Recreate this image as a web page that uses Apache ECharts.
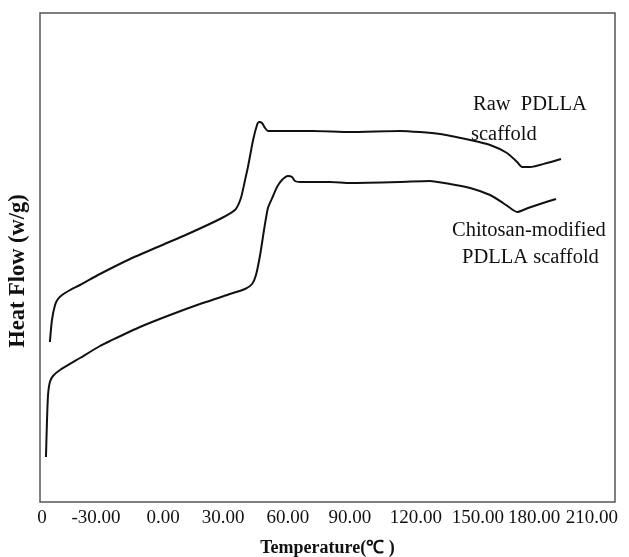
<!DOCTYPE html>
<html>
<head>
<meta charset="utf-8">
<script src="https://cdn.jsdelivr.net/npm/echarts@6/dist/echarts.min.js"></script>
<style>
  html, body { margin: 0; padding: 0; background: #fff; }
  #main { width: 629px; height: 557px; }
</style>
</head>
<body>
<div id="main"></div>
<script>
// tick labels along the temperature axis, as printed, and where they sit on the axis
var tickLabels = ['0', '-30.00', '0.00', '30.00', '60.00', '90.00', '120.00', '150.00', '180.00', '210.00'];
var tickValues = [-56.0, -29.8, 2.7, 31.8, 63.3, 93.4, 125.4, 155.5, 182.7, 210.8];

// Raw PDLLA scaffold: [temperature, heat flow (arbitrary)]
var rawTemp = [-52.2, -51.2, -49.7, -48.3, -46.3, -42.4, -37.6, -27.9, -13.3, 1.2, 15.8, 30.3, 37.6, 40.5, 42.5, 43.9, 46.4, 48.3, 49.3, 50.7, 52.2, 53.6, 59.5, 75.5, 93.4, 117.7, 137.1, 151.7, 161.4, 169.6, 174.5, 176.9, 180.8, 189.0, 195.8];
var rawFlow = [160, 182, 197, 203, 207, 212, 217, 228, 243, 256, 269, 283, 292, 304, 322, 335, 362, 377, 380, 379, 374, 371, 371, 371, 370, 371, 368, 362, 357, 349, 340, 335, 335, 339, 343];

// Chitosan-modified PDLLA scaffold
var chiTemp = [-54.1, -53.6, -53.1, -52.2, -50.7, -47.3, -37.6, -27.9, -23.0, -8.5, 6.1, 20.6, 35.2, 42.5, 45.9, 47.8, 49.8, 51.7, 53.6, 56.1, 58.0, 60.4, 63.3, 65.3, 66.7, 69.2, 83.7, 93.4, 117.7, 132.2, 141.9, 151.7, 161.4, 167.7, 172.5, 174.5, 179.8, 187.1, 193.4];
var chiFlow = [45, 82, 107, 120, 126, 132, 144, 156, 161, 175, 187, 198, 208, 213, 218, 227, 247, 272, 294, 306, 315, 322, 326, 325, 321, 320, 320, 319, 320, 321, 318, 314, 307, 299, 292, 290, 294, 299, 303];

function pairs(xs, ys) {
  var out = [];
  for (var i = 0; i < xs.length; i++) out.push([xs[i], ys[i]]);
  return out;
}

var chart = echarts.init(document.getElementById('main'));
var serif = 'Liberation Serif';
var noteFont = '20.5px "Liberation Serif"';

chart.setOption({
  animation: false,
  backgroundColor: '#fff',
  grid: {
    left: 40, right: 14, top: 13, bottom: 55,
    outerBoundsMode: 'none',
    containLabel: false,
    show: true, borderColor: '#555', borderWidth: 1.5
  },
  xAxis: {
    type: 'value',
    min: -57, max: 222,
    name: 'Temperature(\u2103 )',
    nameLocation: 'middle',
    nameGap: 37,
    nameTextStyle: { fontFamily: serif, fontSize: 18, fontWeight: 'bold', color: '#111' },
    axisLine: { show: false },
    axisTick: { show: false },
    splitLine: { show: false },
    axisLabel: {
      customValues: tickValues,
      showMinLabel: true,
      showMaxLabel: true,
      hideOverlap: false,
      margin: 7,
      fontFamily: serif,
      fontSize: 19,
      color: '#111',
      formatter: function (v) {
        var i = tickValues.indexOf(v);
        return i >= 0 ? tickLabels[i] : '';
      }
    }
  },
  yAxis: {
    type: 'value',
    min: 0, max: 489,
    axisLine: { show: false },
    axisTick: { show: false },
    axisLabel: { show: false },
    splitLine: { show: false }
  },
  graphic: [
    {
      type: 'text', x: 18, y: 271, rotation: Math.PI / 2,
      style: { text: 'Heat Flow (w/g)', font: 'bold 22.5px "Liberation Serif"', fill: '#111', align: 'center', verticalAlign: 'middle' }
    },
    { type: 'text', left: 473, top: 94, style: { text: 'Raw  PDLLA', font: noteFont, fill: '#111' } },
    { type: 'text', left: 471, top: 124, style: { text: 'scaffold', font: noteFont, fill: '#111' } },
    { type: 'text', left: 452, top: 220, style: { text: 'Chitosan-modified', font: noteFont, fill: '#111' } },
    { type: 'text', left: 462, top: 247, style: { text: 'PDLLA scaffold', font: noteFont, fill: '#111' } }
  ],
  series: [
    {
      name: 'Raw PDLLA scaffold',
      type: 'line',
      data: pairs(rawTemp, rawFlow),
      showSymbol: false,
      smooth: 0.2,
      lineStyle: { color: '#111', width: 2 }
    },
    {
      name: 'Chitosan-modified PDLLA scaffold',
      type: 'line',
      data: pairs(chiTemp, chiFlow),
      showSymbol: false,
      smooth: 0.2,
      lineStyle: { color: '#111', width: 2 }
    }
  ]
});
</script>
</body>
</html>
